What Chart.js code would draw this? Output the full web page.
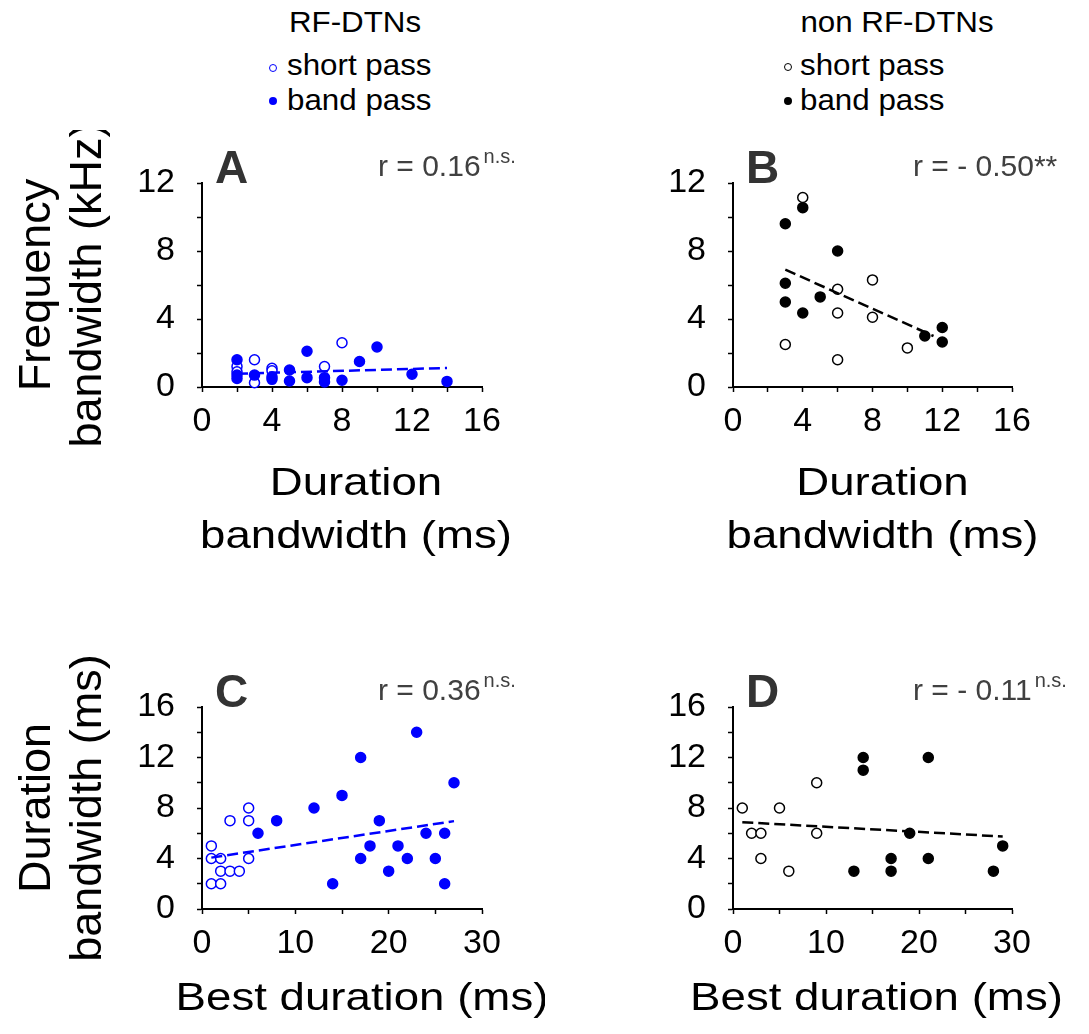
<!DOCTYPE html>
<html>
<head>
<meta charset="utf-8">
<script src="https://cdn.jsdelivr.net/npm/chart.js@4.4.1/dist/chart.umd.min.js"></script>
<style>
  body { margin: 0; background: #fff; }
  #page {
    position: relative;
    width: 1089px;
    height: 1034px;
    overflow: hidden;
    font-family: 'Liberation Sans', Arial, sans-serif;
    color: #000;
  }
  canvas { position: absolute; }
  .txt {
    position: absolute;
    font-size: 29px;
    line-height: 1;
    white-space: nowrap;
    transform: scaleX(1.08);
    transform-origin: left center;
  }
  .head { text-align: center; width: 240px; transform-origin: center center; }
  .dot {
    position: absolute;
    width: 8px; height: 8px;
    border-radius: 50%;
    box-sizing: border-box;
  }
</style>
</head>
<body>
<div id="page">
  <!-- legend headers -->
  <div class="txt head" style="left:235px; top:8px;">RF-DTNs</div>
  <div class="dot" style="left:269px; top:64px; border:1.5px solid #0000ff;"></div>
  <div class="txt" style="left:287px; top:51px;">short pass</div>
  <div class="dot" style="left:269px; top:97px; background:#0000ff;"></div>
  <div class="txt" style="left:287px; top:86px;">band pass</div>

  <div class="txt head" style="left:777px; top:8px;">non RF-DTNs</div>
  <div class="dot" style="left:784px; top:63px; border:1.5px solid #000;"></div>
  <div class="txt" style="left:800px; top:51px;">short pass</div>
  <div class="dot" style="left:784px; top:97px; background:#000;"></div>
  <div class="txt" style="left:800px; top:86px;">band pass</div>

  <canvas id="chart-a" width="545" height="440" style="left:0; top:130px;"></canvas>
  <canvas id="chart-b" width="544" height="440" style="left:545px; top:130px;"></canvas>
  <canvas id="chart-c" width="545" height="404" style="left:0; top:630px;"></canvas>
  <canvas id="chart-d" width="544" height="404" style="left:545px; top:630px;"></canvas>
</div>

<script>
// ── DATA ──────────────────────────────────
// A: RF-DTNs, duration bandwidth (ms) vs frequency bandwidth (kHz)
const aShortX = [2, 2, 3, 3, 4, 4, 7, 8];
const aShortY = [1.2, 0.9, 1.6, 0.25, 1.1, 0.95, 1.2, 2.6];
const aBandX = [2, 2, 2, 3, 4, 4, 5, 5, 6, 6, 7, 7, 8, 9, 10, 12, 14];
const aBandY = [1.6, 0.7, 0.5, 0.7, 0.6, 0.45, 1.0, 0.35, 2.1, 0.55, 0.55, 0.3, 0.4, 1.5, 2.35, 0.75, 0.33];
const aFitX = [2, 14];
const aFitY = [0.78, 1.12];

// B: non RF-DTNs
const bShortX = [4, 6, 8, 6, 8, 3, 10, 6];
const bShortY = [11.15, 5.75, 6.3, 4.35, 4.1, 2.5, 2.3, 1.6];
const bBandX = [4, 3, 6, 3, 5, 3, 4, 11, 12, 12];
const bBandY = [10.55, 9.6, 8.0, 6.1, 5.3, 5.0, 4.35, 3.0, 3.5, 2.65];
const bFitX = [3, 11.5];
const bFitY = [6.9, 3.0];

// C: RF-DTNs, best duration (ms) vs duration bandwidth (ms)
const cShortX = [1, 1, 1, 2, 2, 2, 3, 3, 4, 5, 5, 5];
const cShortY = [5, 4, 2, 4, 3, 2, 7, 3, 3, 8, 7, 4];
const cBandX = [6, 8, 12, 14, 15, 17, 17, 18, 19, 20, 21, 22, 23, 24, 25, 26, 26, 27];
const cBandY = [6, 7, 8, 2, 9, 12, 4, 5, 7, 3, 5, 4, 14, 6, 4, 6, 2, 10];
const cFitX = [1, 27];
const cFitY = [4.07, 6.96];

// D: non RF-DTNs
const dShortX = [1, 2, 3, 3, 5, 6, 9, 9];
const dShortY = [8, 6, 6, 4, 8, 3, 10, 6];
const dBandX = [13, 14, 14, 17, 17, 19, 21, 21, 28, 29];
const dBandY = [3, 12, 11, 4, 3, 6, 12, 4, 3, 5];
const dFitX = [1, 29];
const dFitY = [6.88, 5.74];

// axis ticks
const freqTicks = { min: 0, max: 12, step: 2, label: 4 };
const durBwTicks = { min: 0, max: 16, step: 2, label: 4 };
const bestDurTicks = { min: 0, max: 30, step: 5, label: 10 };

const FONT = "'Liberation Sans', Arial, sans-serif";
const BLUE = '#0000ff';

const zip = (xs, ys) => xs.map((x, i) => ({ x, y: ys[i] }));

// panel letter, correlation text and axis titles
const panelText = {
  id: 'panelText',
  afterDraw(chart, args, opts) {
    const { ctx, chartArea } = chart;
    const midX = (chartArea.left + chartArea.right) / 2;
    const midY = (chartArea.top + chartArea.bottom) / 2;
    ctx.save();
    ctx.textBaseline = 'alphabetic';
    ctx.textAlign = 'left';

    // panel letter
    ctx.fillStyle = '#333333';
    ctx.font = 'bold 46px ' + FONT;
    ctx.fillText(opts.letter, chartArea.left + 13, chartArea.top);

    // r value
    ctx.fillStyle = '#404040';
    ctx.font = '30px ' + FONT;
    const rx = chartArea.left + opts.rx;
    const ry = chartArea.top - 7;
    ctx.fillText(opts.r, rx, ry);
    if (opts.sup) {
      const w = ctx.measureText(opts.r).width;
      ctx.font = '20px ' + FONT;
      ctx.fillText(opts.sup, rx + w + 3, ry - 13);
    }

    // x title (slightly wide lettering like the original)
    ctx.fillStyle = '#000';
    ctx.font = '39px ' + FONT;
    ctx.textAlign = 'center';
    opts.xTitle.forEach((line, i) => {
      ctx.save();
      ctx.translate(midX + opts.xdx, chartArea.bottom + opts.xBase[i]);
      ctx.scale(1.17, 1);
      ctx.fillText(line, 0, 0);
      ctx.restore();
    });

    // y title
    if (opts.yTitle) {
      ctx.font = '45px ' + FONT;
      opts.yTitle.forEach((line, i) => {
        ctx.save();
        ctx.translate(opts.yBase[i], midY);
        ctx.rotate(-Math.PI / 2);
        ctx.fillText(line, 0, 0);
        ctx.restore();
      });
    }
    ctx.restore();
  }
};

function axis(t, fit) {
  return {
    type: 'linear',
    min: t.min,
    max: t.max,
    afterFit: fit,
    border: { display: true, color: '#000', width: 2 },
    grid: {
      display: true,
      drawOnChartArea: false,
      drawTicks: true,
      tickLength: 5,
      tickColor: '#000',
      tickWidth: 1.5
    },
    ticks: {
      stepSize: t.step,
      autoSkip: false,
      maxRotation: 0,
      minRotation: 0,
      color: '#000',
      font: { family: FONT, size: 34 },
      callback: (v) => (v % t.label === 0 ? v : '')
    },
    title: { display: false }
  };
}

function makeChart(id, p) {
  const canvas = document.getElementById(id);
  const xAxis = axis(p.xTicks, (s) => { s.height = p.xHeight; });
  const yAxis = axis(p.yTicks, (s) => { s.width = p.yWidth; });
  xAxis.ticks.padding = 9;
  yAxis.ticks.padding = 22;

  return new Chart(canvas, {
    type: 'scatter',
    data: {
      datasets: [
        {
          type: 'line',
          data: zip(p.fitX, p.fitY),
          borderColor: p.color,
          borderWidth: 2.5,
          borderDash: [11, 5],
          pointRadius: 0,
          fill: false,
          showLine: true,
          clip: false
        },
        {
          data: zip(p.bandX, p.bandY),
          pointRadius: 5,
          pointBorderWidth: 1.5,
          pointBackgroundColor: p.color,
          pointBorderColor: p.color,
          clip: false
        },
        {
          data: zip(p.shortX, p.shortY),
          pointRadius: 5,
          pointBorderWidth: 1.5,
          pointBackgroundColor: '#ffffff',
          pointBorderColor: p.color,
          clip: false
        }
      ]
    },
    options: {
      responsive: false,
      animation: false,
      events: [],
      layout: { autoPadding: false, padding: p.padding },
      plugins: {
        legend: { display: false },
        tooltip: { enabled: false },
        panelText: p.text
      },
      scales: { x: xAxis, y: yAxis }
    },
    plugins: [panelText]
  });
}

// ── TOP ROW ───────────────────────────────
makeChart('chart-a', {
  color: BLUE,
  shortX: aShortX, shortY: aShortY, bandX: aBandX, bandY: aBandY, fitX: aFitX, fitY: aFitY,
  xTicks: durBwTicks, yTicks: freqTicks,
  padding: { left: 0, top: 53, right: 63, bottom: 0 },
  xHeight: 183, yWidth: 202,
  text: {
    letter: 'A', r: 'r = 0.16', sup: 'n.s.', rx: 176,
    xTitle: ['Duration', 'bandwidth (ms)'], xdx: 14, xBase: [108, 161],
    yTitle: ['Frequency', 'bandwidth (kHz)'], yBase: [50, 101]
  }
});

makeChart('chart-b', {
  color: '#000',
  shortX: bShortX, shortY: bShortY, bandX: bBandX, bandY: bBandY, fitX: bFitX, fitY: bFitY,
  xTicks: durBwTicks, yTicks: freqTicks,
  padding: { left: 0, top: 53, right: 77, bottom: 0 },
  xHeight: 183, yWidth: 188,
  text: {
    letter: 'B', r: 'r = - 0.50**', sup: '', rx: 180,
    xTitle: ['Duration', 'bandwidth (ms)'], xdx: 10, xBase: [108, 161],
    yTitle: null
  }
});

// ── BOTTOM ROW ────────────────────────────
makeChart('chart-c', {
  color: BLUE,
  shortX: cShortX, shortY: cShortY, bandX: cBandX, bandY: cBandY, fitX: cFitX, fitY: cFitY,
  xTicks: bestDurTicks, yTicks: durBwTicks,
  padding: { left: 0, top: 77, right: 63, bottom: 0 },
  xHeight: 125, yWidth: 202,
  text: {
    letter: 'C', r: 'r = 0.36', sup: 'n.s.', rx: 176,
    xTitle: ['Best duration (ms)'], xdx: 20, xBase: [101],
    yTitle: ['Duration', 'bandwidth (ms)'], yBase: [50, 101]
  }
});

makeChart('chart-d', {
  color: '#000',
  shortX: dShortX, shortY: dShortY, bandX: dBandX, bandY: dBandY, fitX: dFitX, fitY: dFitY,
  xTicks: bestDurTicks, yTicks: durBwTicks,
  padding: { left: 0, top: 77, right: 77, bottom: 0 },
  xHeight: 125, yWidth: 188,
  text: {
    letter: 'D', r: 'r = - 0.11', sup: 'n.s.', rx: 180,
    xTitle: ['Best duration (ms)'], xdx: 4, xBase: [101],
    yTitle: null
  }
});
</script>
</body>
</html>
